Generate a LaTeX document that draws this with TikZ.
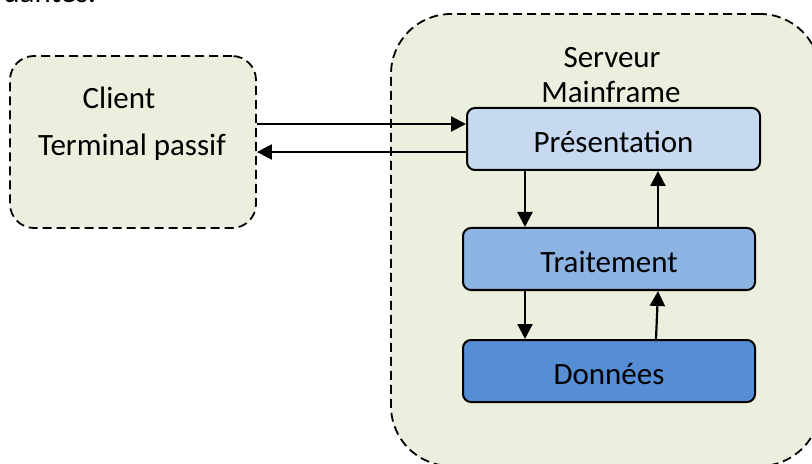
\documentclass[tikz,border=0pt]{standalone}
\usepackage{fontspec}
\setmainfont{Carlito}
\usetikzlibrary{arrows.meta}
\definecolor{zonebg}{RGB}{235,239,222}
\definecolor{presc}{RGB}{198,217,240}
\definecolor{traitc}{RGB}{141,179,226}
\definecolor{donc}{RGB}{85,142,213}
\newcommand{\lowtxt}[1]{\raisebox{-1.5pt}[\height][\depth]{#1}}
\tikzset{
  zone/.style={draw=black, fill=zonebg, line width=0.9pt, dash pattern=on 4.5pt off 2.5pt},
  layer/.style={draw=black, line width=1pt, rounded corners=4pt, minimum width=146pt, minimum height=31pt, inner sep=0pt, font=\fontsize{15.5}{18}\selectfont},
  txt/.style={font=\fontsize{15.5}{18}\selectfont, inner sep=0pt},
  arr/.style={line width=1.1pt, -{Triangle[length=7.5pt,width=7.5pt]}}
}
\begin{document}
\begin{tikzpicture}[x=0.5pt,y=-0.5pt]
\useasboundingbox (0,0) rectangle (812,464);
\node[txt, anchor=base west] (frag) at (3,3) {dantes.};
% client
\node[zone, rounded corners=12pt, minimum width=123pt, minimum height=86pt, inner sep=0pt] (client) at (133,142) {};
\node[txt] (clientlbl) at (119,98) {Client};
\node[txt] (termlbl) at (132,147) {Terminal passif};
% server
\node[zone, rounded corners=30pt, minimum width=214.5pt, minimum height=226pt, inner sep=0pt] (server) at (605.5,240) {};
\node[txt] (srvlbl1) at (612,58) {Serveur};
\node[txt] (srvlbl2) at (611,92) {Mainframe};
% layers
\node[layer, fill=presc, minimum width=146.5pt] (pres) at (613.5,139) {\lowtxt{Présentation}};
\node[layer, fill=traitc] (trait) at (609,259) {\lowtxt{Traitement}};
\node[layer, fill=donc] (don) at (609,371) {\lowtxt{Données}};
% arrows
\draw[arr] (client.east |- 0,124) -- (pres.west |- 0,124);
\draw[arr] (pres.west |- 0,152) -- (client.east |- 0,152);
\draw[arr] (pres.south -| 525,0) -- (trait.north -| 525,0);
\draw[arr] (trait.north -| 658,0) -- (pres.south -| 658,0);
\draw[arr] (trait.south -| 525,0) -- (don.north -| 525,0);
\draw[arr] (don.north -| 656,0) -- (trait.south -| 658,0);
\end{tikzpicture}
\end{document}
